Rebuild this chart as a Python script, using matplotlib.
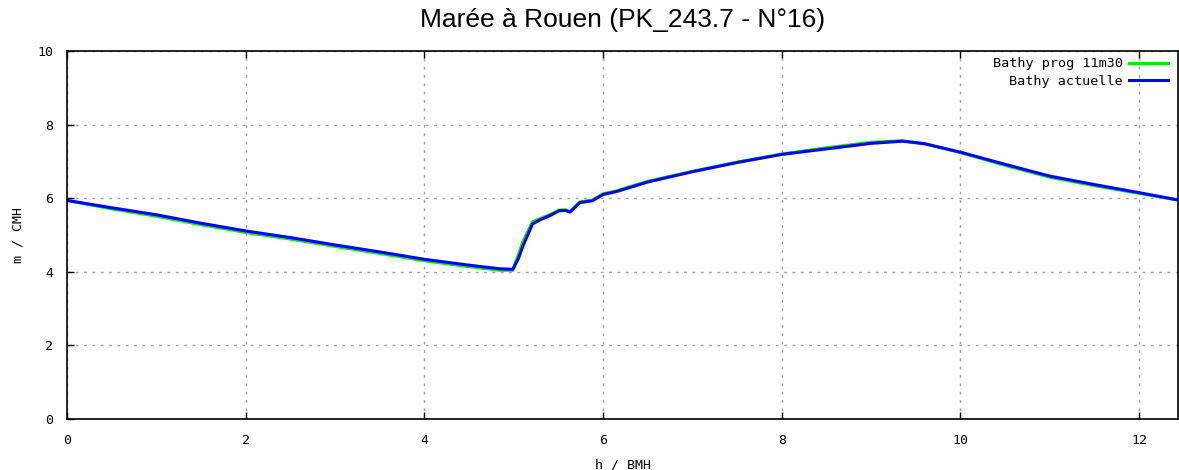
import matplotlib
matplotlib.use("Agg")
import matplotlib.pyplot as plt

# Data
hours_actuelle = [0.0, 0.5, 1.0, 1.5, 2.0, 2.5, 3.0, 3.5, 4.0, 4.5, 4.85, 4.99,
                  5.05, 5.10, 5.21, 5.30, 5.40, 5.51, 5.58, 5.63, 5.74, 5.88,
                  6.0, 6.15, 6.5, 7.0, 7.5, 8.0, 8.5, 9.0, 9.35, 9.6, 10.0,
                  10.5, 11.0, 11.5, 12.0, 12.44]
level_actuelle = [5.94, 5.74, 5.55, 5.32, 5.11, 4.93, 4.73, 4.54, 4.34, 4.18, 4.08, 4.07,
                  4.35, 4.68, 5.30, 5.42, 5.52, 5.66, 5.67, 5.62, 5.88, 5.93,
                  6.10, 6.18, 6.44, 6.72, 6.97, 7.19, 7.34, 7.49, 7.55, 7.48, 7.25,
                  6.92, 6.60, 6.37, 6.15, 5.95]

hours_prog = [0.0, 0.5, 1.0, 1.5, 2.0, 2.5, 3.0, 3.5, 4.0, 4.5, 4.85, 4.99,
              5.05, 5.10, 5.21, 5.30, 5.40, 5.51, 5.58, 5.63, 5.74, 5.88,
              6.0, 6.15, 6.5, 7.0, 7.5, 8.0, 8.5, 9.0, 9.35, 9.6, 10.0,
              10.5, 11.0, 11.5, 12.0, 12.44]
level_prog = [5.94, 5.71, 5.51, 5.28, 5.07, 4.89, 4.69, 4.50, 4.30, 4.14, 4.04, 4.04,
              4.45, 4.80, 5.36, 5.45, 5.55, 5.68, 5.68, 5.64, 5.90, 5.95,
              6.12, 6.20, 6.46, 6.73, 6.98, 7.20, 7.37, 7.52, 7.56, 7.48, 7.24,
              6.89, 6.57, 6.34, 6.13, 5.95]

xticks = [0, 2, 4, 6, 8, 10, 12]
yticks = [0, 2, 4, 6, 8, 10]

fig = plt.figure(figsize=(11.79, 4.70), dpi=100)
ax = fig.add_axes([67/1179, 51/470, 1 - 67/1179 - 0.0005, 368/470])

mono = "DejaVu Sans Mono"
ax.plot(hours_prog, level_prog, color="#00ee00", lw=2.2, label="Bathy prog 11m30")
ax.plot(hours_actuelle, level_actuelle, color="#0000ff", lw=2.2, label="Bathy actuelle")

ax.set_xlim(0, 12.44)
ax.set_ylim(0, 10)
ax.set_xticks(xticks)
ax.set_yticks(yticks)
ax.tick_params(direction="in", length=5, width=1, top=True, right=False,
               labelsize=9.5, colors="black")
ax.tick_params(axis="x", pad=11)
ax.tick_params(axis="y", pad=10)
for lbl in ax.get_xticklabels() + ax.get_yticklabels():
    lbl.set_fontfamily(mono)
ax.grid(True, color="#a0a0a0", linestyle=(0, (2, 4)), linewidth=1)
for side in ["left", "bottom", "top", "right"]:
    ax.spines[side].set_color("black")
    ax.spines[side].set_linewidth(1.2)

ax.set_xlabel("h / BMH", fontfamily=mono, fontsize=9.5, labelpad=8)
ax.yaxis.set_label_coords(-43/1112, 0.5)
ax.set_ylabel("m / CMH", fontfamily=mono, fontsize=9.5)

fig.text(0.5 + 33/1179, 1 - 20/470, "Marée à Rouen (PK_243.7 - N°16)",
         fontfamily="Liberation Sans", fontsize=19, ha="center", va="center")

leg = ax.legend(loc="upper right", frameon=False, markerfirst=False,
                prop={"family": mono, "size": 9.7}, handlelength=2.9,
                handletextpad=0.45, borderaxespad=0.3, labelspacing=0.35,
                bbox_to_anchor=(1 - 1/1112, 1 + 3/368))
for t in leg.get_texts():
    t.set_ha("right")

fig.savefig("out.png", dpi=100)
